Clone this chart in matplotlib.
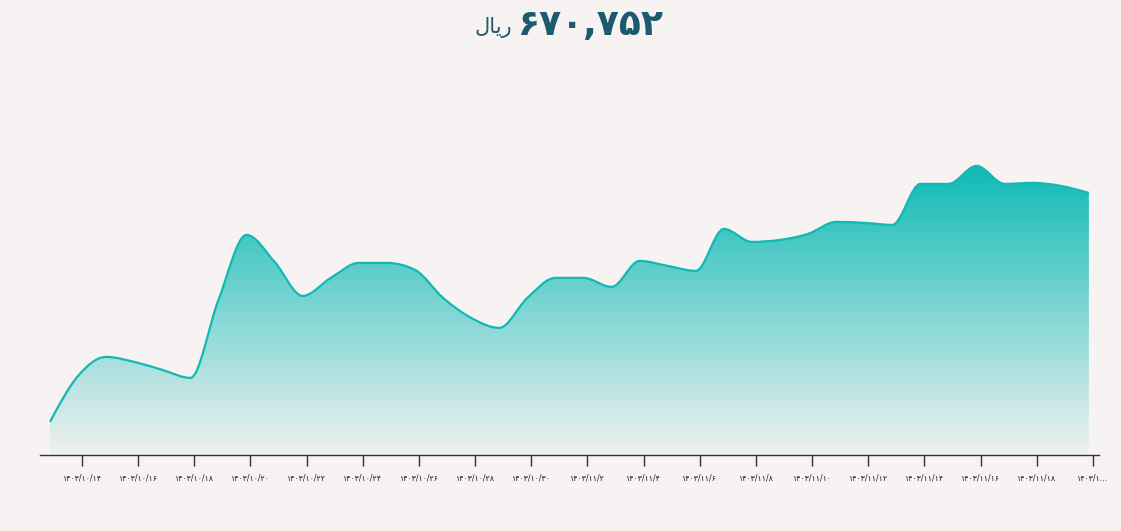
import numpy as np
import matplotlib

matplotlib.use("Agg")

import matplotlib.pyplot as plt
from matplotlib.colors import LinearSegmentedColormap
from matplotlib.path import Path
from matplotlib.patches import PathPatch

W, H, DPI = 1121, 531, 100
BG = "#f7f3f2"
TEAL = "#12b8b3"
TITLE_COLOR = "#1d5a70"

# daily prices (rial), 1403/10/13 .. 1403/11/20
prices = [
    556300, 579300, 588800, 586300, 582300, 578300, 617300, 649800,
    636300, 619300, 628300, 635800, 635800, 632300, 618300, 608300,
    603300, 618300, 628300, 628300, 623800, 636800, 634300, 631800,
    652800, 646300, 647300, 650300, 656300, 655800, 654800, 675300,
    675300, 684300, 675300, 675800, 674300, 670752,
]
tick_labels = [
    "۱۴۰۳/۱۰/۱۴", "۱۴۰۳/۱۰/۱۶", "۱۴۰۳/۱۰/۱۸", "۱۴۰۳/۱۰/۲۰", "۱۴۰۳/۱۰/۲۲",
    "۱۴۰۳/۱۰/۲۴", "۱۴۰۳/۱۰/۲۶", "۱۴۰۳/۱۰/۲۸", "۱۴۰۳/۱۰/۳۰", "۱۴۰۳/۱۱/۲",
    "۱۴۰۳/۱۱/۴", "۱۴۰۳/۱۱/۶", "۱۴۰۳/۱۱/۸", "۱۴۰۳/۱۱/۱۰", "۱۴۰۳/۱۱/۱۲",
    "۱۴۰۳/۱۱/۱۴", "۱۴۰۳/۱۱/۱۶", "۱۴۰۳/۱۱/۱۸", "۱۴۰۳/۱...",
]
current_price = "۶۷۰,۷۵۲"
# "ریال" written in shaped presentation forms, visual order
unit = "\ufedd\ufe8e\ufef3\ufead"


def monotone_path(x, y):
    """Bezier path like d3.curveMonotoneX through the points."""
    x = np.asarray(x, float)
    y = np.asarray(y, float)
    n = len(x)
    h = np.diff(x)
    s = np.diff(y) / h
    t = np.zeros(n)
    for i in range(1, n - 1):
        p = (s[i - 1] * h[i] + s[i] * h[i - 1]) / (h[i - 1] + h[i])
        t[i] = (np.sign(s[i - 1]) + np.sign(s[i])) * min(
            abs(s[i - 1]), abs(s[i]), 0.5 * abs(p))
    t[0] = (3 * s[0] - t[1]) / 2
    t[-1] = (3 * s[-1] - t[-2]) / 2
    verts = [(x[0], y[0])]
    codes = [Path.MOVETO]
    for i in range(n - 1):
        d = h[i] / 3
        verts += [(x[i] + d, y[i] + d * t[i]),
                  (x[i + 1] - d, y[i + 1] - d * t[i + 1]),
                  (x[i + 1], y[i + 1])]
        codes += [Path.CURVE4] * 3
    return verts, codes


fig = plt.figure(figsize=(W / DPI, H / DPI), dpi=DPI)
fig.patch.set_facecolor(BG)

# axes box in pixels: x 40..1099, y 60..455 (from top)
ax = fig.add_axes([40 / W, (H - 455) / H, (1099 - 40) / W, (455 - 60) / H])
ax.set_facecolor(BG)

days = np.arange(len(prices))
ax.set_xlim(-0.356, 37.36)
ymin, ymax = 539750, 737250
ax.set_ylim(ymin, ymax)

verts, codes = monotone_path(days, prices)

# gradient area under the curve
area = Path(verts + [(days[-1], ymin), (days[0], ymin), (days[0], ymin)],
            codes + [Path.LINETO, Path.LINETO, Path.CLOSEPOLY])
patch = PathPatch(area, facecolor="none", edgecolor="none")
ax.add_patch(patch)
cmap = LinearSegmentedColormap.from_list(
    "fade", [(0.05, 0.73, 0.71, 0.03), (0.05, 0.73, 0.71, 1.0)])
grad = np.linspace(0, 1, 256).reshape(-1, 1)
im = ax.imshow(grad, cmap=cmap, aspect="auto", origin="lower",
               extent=[days[0], days[-1], ymin, max(prices)], zorder=1,
               interpolation="bilinear")
im.set_clip_path(patch)

line = PathPatch(Path(verts, codes), facecolor="none", edgecolor=TEAL,
                 linewidth=1.6, zorder=3)
ax.add_patch(line)

for side in ("top", "right", "left"):
    ax.spines[side].set_visible(False)
ax.spines["bottom"].set_color("#333333")
ax.spines["bottom"].set_linewidth(1.0)
ax.set_yticks([])
ticks = 1.14 + 2 * np.arange(len(tick_labels))
ax.set_xticks(ticks)
ax.set_xticklabels(tick_labels, fontsize=5.6, color="#1a1a1a",
                   family=["DejaVu Sans"])
ax.tick_params(axis="x", length=8, width=1, color="#333333", pad=5)

fig.text(591 / W, 1 - 25 / H, current_price, fontsize=26, weight="bold",
         color=TITLE_COLOR, ha="center", va="center", family=["DejaVu Sans"])
fig.text(512 / W, 1 - 27 / H, unit, fontsize=15, color=TITLE_COLOR,
         ha="right", va="center", family=["DejaVu Sans"])

fig.savefig("out.png", dpi=DPI, facecolor=BG)
